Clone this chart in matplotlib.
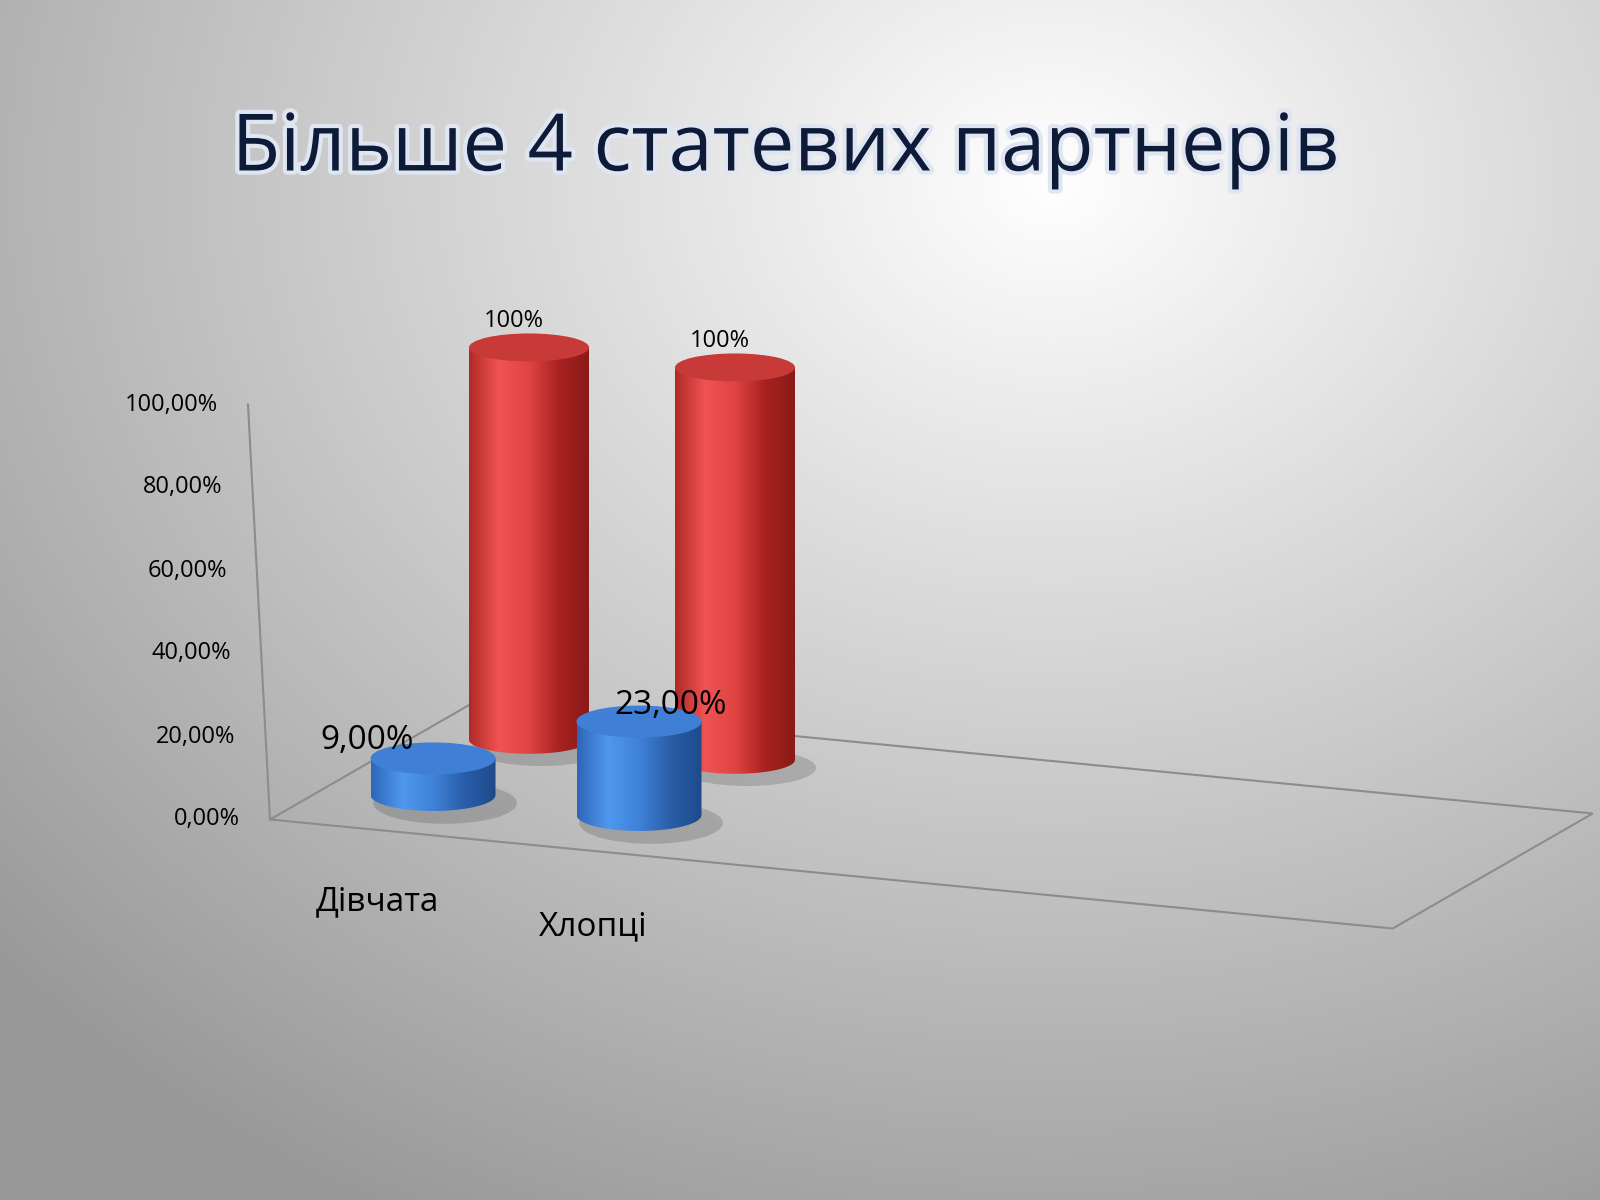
import numpy as np
import matplotlib
matplotlib.use("Agg")
import matplotlib.pyplot as plt
from matplotlib.patches import Ellipse, Polygon, PathPatch
from matplotlib.path import Path
import matplotlib.patheffects as pe
from matplotlib.colors import LinearSegmentedColormap

title = "Більше 4 статевих партнерів"
categories = ["Дівчата", "Хлопці"]
blue_vals = [9.0, 23.0]
red_vals = [100.0, 100.0]
blue_labels = ["9,00%", "23,00%"]
red_labels = ["100%", "100%"]
yticks = [0, 20, 40, 60, 80, 100]
ytick_labels = ["0,00%", "20,00%", "40,00%", "60,00%", "80,00%", "100,00%"]

fig = plt.figure(figsize=(16, 12), dpi=100)
ax = fig.add_axes([0, 0, 1, 1])
ax.set_xlim(0, 1600); ax.set_ylim(1200, 0); ax.axis("off")

# background radial gradient
yy, xx = np.mgrid[0:1200:4, 0:1600:4]
r = np.hypot((xx - 1050) / 1700, (yy - 180) / 1400)
g = np.clip(1.0 - 0.48 * r, 0.6, 1.0)
ax.imshow(np.dstack([g, g, g]), extent=(0, 1600, 1200, 0), zorder=0)

origin = np.array([270.0, 819.5])
cat_vec = np.array([206.0, 20.0])
dep_vec = np.array([200.0, -115.0])
vpx = 4.15

def proj(c, d, v):
    p = origin + c * cat_vec + d * dep_vec
    return p[0] - 0.22 * v * (1 - c / 8), p[1] - v * vpx * (1 - 0.07 * d)

# floor
ncat = 5.45
fl = [proj(0, 0, 0), proj(ncat, 0, 0), proj(ncat, 1, 0), proj(0, 1, 0)]
ax.add_patch(Polygon(fl, closed=True, fill=False, ec="#8c8c8c", lw=1.5, zorder=1))
ax.plot(*zip(proj(0, 0, 0), proj(0, 0, 100)), color="#8c8c8c", lw=1.5, zorder=1)
for t, lab in zip(yticks, ytick_labels):
    x, y = proj(0, 0, t)
    ax.text(x - 30, y, lab, ha="right", va="center", fontsize=17, family="Open Sans", zorder=2)
for i, c in enumerate(categories):
    x, y = proj(i + 0.5, 0, 0)
    ax.text(x + 4 + i * 10, y + 72 + i * 5, c, ha="center", va="center", fontsize=24, family="Open Sans", zorder=2)

def cylinder(cx, cy_bot, cy_top, w, eh, cmap, top_col, z):
    ax.add_patch(Ellipse((cx + 12, cy_bot + 8), w * 1.15, eh * 1.3, color="black", alpha=0.15, zorder=z, lw=0))
    verts = [(cx - w / 2, cy_top), (cx - w / 2, cy_bot)]
    th = np.linspace(np.pi, 0, 40)
    verts += [(cx + w / 2 * np.cos(t), cy_bot + eh / 2 * np.sin(t)) for t in th]
    verts += [(cx + w / 2, cy_top), (cx - w / 2, cy_top)]
    patch = PathPatch(Path(verts), fc="none", ec="none")
    ax.add_patch(patch)
    grad = np.linspace(0, 1, 200)[None, :]
    im = ax.imshow(grad, cmap=cmap, extent=(cx - w / 2, cx + w / 2, cy_bot + eh, cy_top), aspect="auto", zorder=z + 0.1)
    im.set_clip_path(patch)
    ax.add_patch(Ellipse((cx, cy_top), w, eh, color=top_col, zorder=z + 0.2, lw=0))

red_cmap = LinearSegmentedColormap.from_list("r", ["#b02a28", "#f05452", "#e04442", "#a82220", "#8a1a18"])
blue_cmap = LinearSegmentedColormap.from_list("b", ["#2e66b8", "#4f98ee", "#3f82d8", "#2a5ea8", "#1e4a8c"])

for i in range(2):
    x, yb = proj(i + 0.5, 0.78, 0)
    _, yt = proj(i + 0.5, 0.78, red_vals[i])
    cylinder(x, yb, yt, 120, 28, red_cmap, "#c83a38", 3 + i)
    ax.text(x - 15, yt - 26, red_labels[i], ha="center", va="center", fontsize=17, family="Open Sans", zorder=9)
for i in range(2):
    x, yb = proj(i + 0.5, 0.3, 0)
    _, yt = proj(i + 0.5, 0.3, blue_vals[i])
    cylinder(x, yb, yt, 125, 32, blue_cmap, "#3f80d6", 6 + i)
    ax.text(x - 66 + 98 * i, yt - 18 + 2 * i, blue_labels[i], ha="center", va="center", fontsize=24, family="Open Sans", zorder=9)

ax.text(785, 150, title, ha="center", va="center", fontsize=57, family="Open Sans",
        color="#0d1b38", zorder=10,
        path_effects=[pe.withStroke(linewidth=6, foreground="#dfe6f2")])

fig.savefig("out.png", dpi=100)
